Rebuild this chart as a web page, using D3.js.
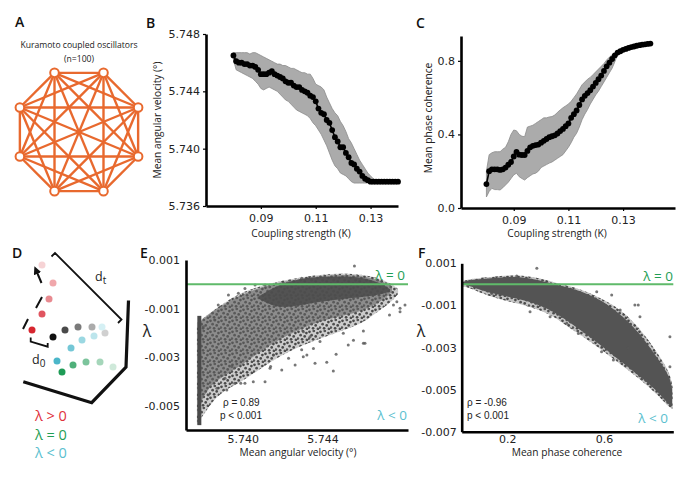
<!DOCTYPE html>
<html><head><meta charset="utf-8">
<script src="https://cdn.jsdelivr.net/npm/d3@7"></script>
<style>body{margin:0;background:#fff}</style>
</head><body>
<script>
// ---------- data ----------
var kVals = [0.080,0.081,0.082,0.083,0.084,0.085,0.086,0.087,0.088,0.089,
             0.090,0.091,0.092,0.093,0.094,0.095,0.096,0.097,0.098,0.099,
             0.100,0.101,0.102,0.103,0.104,0.105,0.106,0.107,0.108,0.109,
             0.110,0.111,0.112,0.113,0.114,0.115,0.116,0.117,0.118,0.119,
             0.120,0.121,0.122,0.123,0.124,0.125,0.126,0.127,0.128,0.129,
             0.130,0.131,0.132,0.133,0.134,0.135,0.136,0.137,0.138,0.139,0.140]

var velMean = [5.7465,5.7461,5.7460,5.7460,5.7459,5.7459,5.7458,5.7458,5.7457,5.7455,
               5.7452,5.7452,5.7452,5.7453,5.7454,5.7452,5.7451,5.7450,5.7449,5.7447,
               5.7446,5.7446,5.7444,5.7443,5.7443,5.7441,5.7440,5.7439,5.7437,5.7436,
               5.7433,5.7428,5.7425,5.7424,5.7420,5.7418,5.7413,5.7408,5.7405,5.7401,
               5.7401,5.7397,5.7394,5.7390,5.7389,5.7386,5.7384,5.7381,5.7379,5.7378,
               5.7377,5.7377,5.7377,5.7377,5.7377,5.7377,5.7377,5.7377,5.7377,5.7377,5.7377]
var velHi = [5.7467,5.7467,5.7467,5.7467,5.7467,5.7467,5.7466,5.7467,5.7467,5.7466,
             5.7465,5.7464,5.7463,5.7462,5.7461,5.7460,5.7459,5.7459,5.7458,5.7458,
             5.7457,5.7456,5.7456,5.7455,5.7454,5.7453,5.7453,5.7452,5.7452,5.7449,
             5.7445,5.7444,5.7443,5.7441,5.7436,5.7432,5.7428,5.7425,5.7423,5.7419,
             5.7416,5.7412,5.7407,5.7404,5.7400,5.7396,5.7392,5.7389,5.7386,5.7383,
             5.7381,5.7379,5.7378,5.7378,5.7378,5.7378,5.7378,5.7378,5.7378,5.7378,5.7378]
var velLo = [5.7462,5.7455,5.7454,5.7453,5.7452,5.7451,5.7450,5.7449,5.7447,5.7445,
             5.7442,5.7441,5.7442,5.7443,5.7442,5.7441,5.7440,5.7438,5.7436,5.7434,
             5.7433,5.7431,5.7429,5.7427,5.7426,5.7425,5.7424,5.7423,5.7421,5.7418,
             5.7416,5.7413,5.7410,5.7406,5.7402,5.7397,5.7392,5.7388,5.7386,5.7383,
             5.7382,5.7381,5.7379,5.7377,5.7376,5.7376,5.7376,5.7376,5.7376,5.7376,
             5.7376,5.7376,5.7376,5.7376,5.7376,5.7376,5.7376,5.7376,5.7376,5.7376,5.7376]

var cohMean = [0.13,0.20,0.21,0.21,0.21,0.207,0.21,0.22,0.235,0.25,
               0.28,0.305,0.29,0.288,0.288,0.31,0.33,0.338,0.342,0.345,
               0.355,0.365,0.375,0.385,0.39,0.395,0.405,0.418,0.43,0.445,
               0.46,0.49,0.51,0.53,0.56,0.59,0.61,0.625,0.64,0.66,
               0.68,0.70,0.72,0.745,0.77,0.79,0.81,0.83,0.845,0.852,
               0.86,0.865,0.87,0.875,0.878,0.882,0.885,0.888,0.89,0.892,0.894]
var cohHi = [0.20,0.29,0.30,0.306,0.306,0.306,0.32,0.33,0.36,0.40,
             0.424,0.42,0.40,0.39,0.388,0.44,0.445,0.45,0.46,0.47,
             0.48,0.49,0.49,0.495,0.497,0.505,0.52,0.533,0.545,0.555,
             0.565,0.58,0.60,0.62,0.645,0.67,0.685,0.70,0.71,0.725,
             0.74,0.755,0.77,0.785,0.805,0.82,0.833,0.84,0.85,0.856,
             0.864,0.869,0.874,0.879,0.882,0.886,0.889,0.892,0.894,0.896,0.898]
var cohLo = [0.06,0.09,0.107,0.10,0.10,0.098,0.11,0.125,0.14,0.16,
             0.18,0.189,0.17,0.16,0.152,0.165,0.175,0.185,0.189,0.20,
             0.22,0.228,0.236,0.244,0.25,0.26,0.27,0.28,0.29,0.31,
             0.33,0.355,0.385,0.406,0.44,0.48,0.51,0.535,0.565,0.59,
             0.615,0.635,0.66,0.685,0.71,0.735,0.76,0.795,0.835,0.848,
             0.856,0.861,0.866,0.871,0.874,0.878,0.881,0.884,0.886,0.888,0.890]

// E: lambda vs mean angular velocity (sparse outline, mid-density zone, dense core, streak, loose points)
var eCloudX   = [5.7377,5.7380,5.7385,5.7390,5.7400,5.7410,5.7420,5.7430,5.7440,5.7450,5.7460,5.7465,5.7470,5.7475,5.7478]
var eCloudTop = [-0.0016,-0.0014,-0.0011,-0.0008,-0.0003,-0.00005,0.00015,0.0003,0.0004,0.00045,0.0004,0.00032,0.0002,0.0,-0.0002]
var eCloudBot = [-0.0058,-0.0054,-0.0048,-0.0044,-0.0040,-0.0034,-0.0029,-0.0025,-0.0022,-0.0019,-0.0016,-0.0013,-0.0010,-0.0007,-0.0004]
var eMidX   = [5.7378,5.7382,5.7385,5.7390,5.7400,5.7410,5.7420,5.7430,5.7440,5.7450,5.7460,5.7470,5.7475]
var eMidTop = [-0.0016,-0.0013,-0.0011,-0.00085,-0.0004,-0.0001,0.0001,0.00025,0.00035,0.0004,0.00035,0.00015,-0.0001]
var eMidBot = [-0.0050,-0.0044,-0.0041,-0.0038,-0.0033,-0.0027,-0.0022,-0.0018,-0.0015,-0.0013,-0.0011,-0.0007,-0.0003]
var eCoreX   = [5.7408,5.7415,5.7422,5.7430,5.7440,5.7450,5.7460,5.7468,5.7474]
var eCoreTop = [-0.0005,-0.00015,0.00008,0.00025,0.0003,0.00033,0.00028,0.0001,-0.0002]
var eCoreBot = [-0.0006,-0.0009,-0.00095,-0.00085,-0.0007,-0.0006,-0.00052,-0.00044,-0.0003]
var eStreak = [5.73782,-0.0058,-0.0013]
var eLoose = [[5.74561,0.00075],[5.74455,-0.00357],[5.74606,-0.00243],[5.74757,-0.00085],[5.74815,-0.00085],
  [5.7479,-0.00113],[5.74363,-0.00325],[5.74304,-0.00298],[5.7414,-0.00339],[5.7399,-0.00408],
  [5.73945,-0.00339],[5.7392,-0.00435],[5.74422,-0.00321],[5.74469,-0.00288],[5.7453,-0.0025],
  [5.74556,-0.0023],[5.74614,-0.00243],[5.74606,-0.00192],[5.74737,-0.00126],[5.7479,-0.00099],
  [5.74774,-0.00072],[5.74322,-0.00291],[5.74355,-0.00264],[5.74388,-0.00236],[5.74505,-0.00202],
  [5.74305,-0.00195],[5.74338,-0.00216],[5.74112,-0.00401],[5.74053,-0.00401],[5.74011,-0.00408],
  [5.7396,-0.00408],[5.74263,-0.00332],[5.7423,-0.00305],[5.74196,-0.00353],[5.74137,-0.00346],
  [5.74154,-0.00291],[5.74296,-0.0027],[5.73877,-0.00085],[5.7386,-0.00147],[5.73802,-0.00175],
  [5.73928,-0.00044],[5.73978,-0.00037],[5.74011,-0.00017],[5.74062,-0.00003],[5.74296,0.00025],
  [5.74204,0.00004],[5.74112,-0.00003],[5.73827,-0.00456],[5.7387,-0.00428],[5.73911,-0.00387]]

// F: lambda vs mean phase coherence
var fOuterX   = [0.013,0.032,0.128,0.239,0.335,0.404,0.473,0.542,0.611,0.680,0.749,0.818,0.874,0.884]
var fOuterTop = [0.0001,0.00025,0.00035,0.00047,0.0003,0.00005,-0.00012,-0.0004,-0.0008,-0.0013,-0.0021,-0.0032,-0.0042,-0.0049]
var fOuterBot = [-0.0001,-0.0001,-0.0006,-0.0009,-0.0012,-0.0016,-0.0022,-0.0027,-0.0033,-0.0039,-0.0045,-0.0052,-0.0059,-0.0059]
var fCoreX   = [0.015,0.032,0.128,0.239,0.335,0.404,0.473,0.542,0.611,0.680,0.749,0.818,0.874,0.882]
var fCoreTop = [0.0001,0.0002,0.00029,0.0004,0.0002,-0.00003,-0.00019,-0.0005,-0.0009,-0.00154,-0.00233,-0.00344,-0.00439,-0.0050]
var fCoreBot = [0.0,-0.00003,-0.00043,-0.00066,-0.00098,-0.00138,-0.00193,-0.00249,-0.00312,-0.00375,-0.00439,-0.00502,-0.00581,-0.0058]
var fLoose = [[0.294,-0.0013],[0.377,-0.00154],[0.446,-0.00185],[0.494,-0.00233],[0.549,-0.00249],
  [0.57,-0.00035],[0.632,-0.0005],[0.667,-0.00122],[0.728,-0.00098],[0.749,-0.00154],
  [0.639,-0.00359],[0.701,-0.00304],[0.873,-0.00391],[0.873,-0.00249],[0.777,-0.00454],
  [0.239,0.0004],[0.322,0.00076],[0.742,-0.00098],[0.59,-0.0032],[0.135,-0.00043],[0.377,-0.00082]]

var ticksVel = [5.736,5.740,5.744,5.748]
var ticksK = [0.09,0.11,0.13]
var ticksCoh = [0.0,0.4,0.8]
var ticksLamE = [0.001,-0.001,-0.003,-0.005]
var ticksLamF = [0.001,-0.001,-0.003,-0.005,-0.007]
var ticksVelX = [5.740,5.744]
var ticksCohX = [0.2,0.6]

// ---------- setup ----------
var svg = d3.select("body").append("svg").attr("width",682).attr("height",477)
var defs = svg.append("defs")
var ORANGE = "#e8692e", GREEN = "#5fba6a", CYAN = "#5bbfcf", RED = "#e0313b", DGREEN = "#1f9e55"
var labelFont = "Open Sans", tickFont = "DejaVu Sans"

var fmt3 = function(d){ return d3.format(".3f")(d).replace("\u2212","-") }

function styleAxis(g){
  g.select(".domain").attr("stroke","#000").attr("stroke-width",2.6)
  g.selectAll(".tick line").attr("stroke","#000").attr("stroke-width",1.2)
  g.selectAll("text").attr("font-family",tickFont).attr("font-size",11).attr("fill","#222")
}
function txt(x,y,s,size,opt){
  opt = opt || {}
  return svg.append("text").attr("x",x).attr("y",y).text(s)
    .attr("font-family",opt.font||labelFont).attr("font-size",size)
    .attr("font-weight",opt.weight||400).attr("fill",opt.fill||"#222")
    .attr("text-anchor",opt.anchor||"start")
}
function ylabel(x,y,s,size){
  svg.append("text").attr("transform","translate("+x+","+y+") rotate(-90)")
    .attr("text-anchor","middle").attr("dy","0.35em").text(s)
    .attr("font-family",labelFont).attr("font-size",size).attr("fill","#222")
}

// panel letters
txt(15,27,"A",14,{weight:600,fill:"#111"})
txt(146,28,"B",14,{weight:600,fill:"#111"})
txt(416,28,"C",14,{weight:600,fill:"#111"})
txt(12,258,"D",14,{weight:600,fill:"#111"})
txt(140,258,"E",14,{weight:600,fill:"#111"})
txt(418,258,"F",14,{weight:600,fill:"#111"})

// ---------- A: complete graph of 8 oscillators ----------
txt(79,48,"Kuramoto coupled oscillators",8.6,{anchor:"middle"})
txt(79,62,"(n=100)",8.6,{anchor:"middle"})
var nodeAngles = [-22.5,22.5,67.5,112.5,157.5,202.5,247.5,292.5]
var nodes = nodeAngles.map(function(a){
  var p = d3.pointRadial(a*Math.PI/180,64); return [79+p[0],132+p[1]] })
var edges = []
nodes.forEach(function(a,i){ nodes.forEach(function(b,j){ if(j>i) edges.push([a,b]) }) })
svg.append("g").selectAll("line").data(edges).join("line")
  .attr("x1",function(d){return d[0][0]}).attr("y1",function(d){return d[0][1]})
  .attr("x2",function(d){return d[1][0]}).attr("y2",function(d){return d[1][1]})
  .attr("stroke",ORANGE).attr("stroke-width",2.4)
svg.append("g").selectAll("circle").data(nodes).join("circle")
  .attr("cx",function(d){return d[0]}).attr("cy",function(d){return d[1]}).attr("r",4.3)
  .attr("fill","#fff").attr("stroke",ORANGE).attr("stroke-width",2)

// ---------- B and C: mean +/- band vs coupling strength ----------
function bandPanel(x,y,mean,hi,lo){
  var area = d3.area().x(function(d,i){return x(kVals[i])})
    .y0(function(d,i){return y(lo[i])}).y1(function(d,i){return y(hi[i])})
  svg.append("path").datum(kVals).attr("d",area)
    .attr("fill","#ababab").attr("stroke","#8a8a8a").attr("stroke-width",0.8)
  var line = d3.line().x(function(d,i){return x(kVals[i])}).y(function(d){return y(d)})
  svg.append("path").datum(mean).attr("d",line).attr("fill","none").attr("stroke","#000").attr("stroke-width",1.6)
  svg.append("g").selectAll("circle").data(mean).join("circle")
    .attr("cx",function(d,i){return x(kVals[i])}).attr("cy",function(d){return y(d)}).attr("r",2.9).attr("fill","#000")
}

var xB = d3.scaleLinear([0.07,0.14],[206,398])
var yB = d3.scaleLinear([5.736,5.748],[206,34])
bandPanel(xB,yB,velMean,velHi,velLo)
svg.append("g").attr("transform","translate(206,0)")
  .call(d3.axisLeft(yB).tickValues(ticksVel).tickFormat(d3.format(".3f")).tickSize(3).tickSizeOuter(0)).call(styleAxis)
svg.append("g").attr("transform","translate(0,206)")
  .call(d3.axisBottom(xB).tickValues(ticksK).tickFormat(d3.format(".2f")).tickSize(3).tickSizeOuter(0).tickPadding(5)).call(styleAxis)
ylabel(157,120,"Mean angular velocity (\u00b0)",10.2)
txt(301,237,"Coupling strength (K)",10.2,{anchor:"middle"})

var xC = d3.scaleLinear([0.0707,0.149],[461,675])
var yC = d3.scaleLinear([0,0.935],[208,36])
bandPanel(xC,yC,cohMean,cohHi,cohLo)
svg.append("g").attr("transform","translate(461,0)")
  .call(d3.axisLeft(yC).tickValues(ticksCoh).tickFormat(d3.format(".1f")).tickSize(3).tickSizeOuter(0)).call(styleAxis)
svg.append("g").attr("transform","translate(0,208)")
  .call(d3.axisBottom(xC).tickValues(ticksK).tickFormat(d3.format(".2f")).tickSize(3).tickSizeOuter(0).tickPadding(5)).call(styleAxis)
ylabel(428,118,"Mean phase coherence",10.2)
txt(557,237,"Coupling strength (K)",10.2,{anchor:"middle"})

// ---------- D: schematic of trajectory divergence ----------
var dDots = [
  [42,265,"#f6d3d5"],[53,283,"#f0a7ab"],[49,299,"#e88a90"],[42,314,"#e05560"],[32,330,"#d7262f"],
  [105,333,"#d0d0d0"],[92,327,"#ababab"],[78,327,"#7a7a7a"],[65,330,"#4a4a4a"],[53,337,"#111"],
  [102,327,"#d5f0f4"],[94,336,"#bce5ec"],[82,340,"#9bd8e2"],[71,348,"#74c7d6"],[57,361,"#4bb6c9"],
  [113,367,"#cfe9da"],[100,362,"#a5d6ba"],[86,362,"#7cc49c"],[73,365,"#4fb07a"],[62,372,"#1e9b56"]]
svg.append("g").selectAll("circle").data(dDots).join("circle")
  .attr("cx",function(d){return d[0]}).attr("cy",function(d){return d[1]}).attr("r",3.5)
  .attr("fill",function(d){return d[2]})
svg.append("path").attr("d","M23,329 L28,319 M36,308 L42,297").attr("fill","none").attr("stroke","#111").attr("stroke-width",2)
defs.html('<marker id="ah" viewBox="0 0 10 10" refX="5" refY="5" markerWidth="4" markerHeight="4" orient="auto"><path d="M0,0 L10,5 L0,10 z" fill="#111"/></marker>')
svg.append("path").attr("d","M41.5,283 L36,270").attr("fill","none").attr("stroke","#111").attr("stroke-width",2).attr("marker-end","url(#ah)")
svg.append("path").attr("d","M30.7,337.5 L30.7,341.5 L47.7,346.7 L47.7,343").attr("fill","none").attr("stroke","#111").attr("stroke-width",1.8)
svg.append("path").attr("d","M51.5,256.5 L55,253 L121.5,319.5 L118,323").attr("fill","none").attr("stroke","#111").attr("stroke-width",1.8)
svg.append("path").attr("d","M128.5,300.5 L126,367 L91.7,402.7 L23.3,381.7").attr("fill","none").attr("stroke","#111").attr("stroke-width",3.2)
var d0 = txt(32,364,"d",12.5); d0.append("tspan").attr("dy",3).attr("font-size",10).text("0")
var dt = txt(95,281,"d",12.5); dt.append("tspan").attr("dy",3).attr("font-size",10).text("t")
txt(35,421,"\u03bb > 0",14.5,{fill:RED})
txt(35,439.5,"\u03bb = 0",14.5,{fill:DGREEN})
txt(35,458,"\u03bb < 0",14.5,{fill:CYAN})

// irregular speckle tile for the scatter clouds
defs.append("pattern").attr("id","spk").attr("width",11).attr("height",11).attr("patternUnits","userSpaceOnUse")
  .html('<circle cx="1.5" cy="1.8" r="1.35" fill="#4a4a4a"/><circle cx="5.8" cy="0.9" r="1.35" fill="#555"/>' +
        '<circle cx="9.4" cy="3.1" r="1.35" fill="#4a4a4a"/><circle cx="3.6" cy="5.2" r="1.35" fill="#505050"/>' +
        '<circle cx="7.7" cy="6.4" r="1.35" fill="#4a4a4a"/><circle cx="0.8" cy="8.6" r="1.35" fill="#555"/>' +
        '<circle cx="5.1" cy="9.3" r="1.35" fill="#4a4a4a"/><circle cx="9.9" cy="9.8" r="1.35" fill="#505050"/>')

function cloud(x,y,xs,top,bot,fill,op){
  var area = d3.area().x(function(d,i){return x(xs[i])})
    .y0(function(d,i){return y(bot[i])}).y1(function(d,i){return y(top[i])}).curve(d3.curveBasis)
  return svg.append("path").datum(xs).attr("d",area).attr("fill",fill).attr("fill-opacity",op)
}
function loose(x,y,pts){
  svg.append("g").selectAll("circle").data(pts).join("circle")
    .attr("cx",function(d){return x(d[0])}).attr("cy",function(d){return y(d[1])}).attr("r",1.5)
    .attr("fill","#555").attr("fill-opacity",0.8)
}

// ---------- E ----------
var xE = d3.scaleLinear([5.73715,5.7483],[186,408])
var yE = d3.scaleLinear([-0.006,0.001],[430,260])
cloud(xE,yE,eCloudX,eCloudTop,eCloudBot,"#9a9a9a",0.5)
cloud(xE,yE,eCloudX,eCloudTop,eCloudBot,"url(#spk)",1)
cloud(xE,yE,eMidX,eMidTop,eMidBot,"#606060",0.6)
cloud(xE,yE,eCoreX,eCoreTop,eCoreBot,"#4d4d4d",0.9)
svg.append("line").attr("x1",xE(eStreak[0])).attr("x2",xE(eStreak[0]))
  .attr("y1",yE(eStreak[1])).attr("y2",yE(eStreak[2])).attr("stroke","#4a4a4a").attr("stroke-width",4)
loose(xE,yE,eLoose)
svg.append("line").attr("x1",xE.range()[0]).attr("x2",xE.range()[1]).attr("y1",yE(0)).attr("y2",yE(0))
  .attr("stroke",GREEN).attr("stroke-width",2)
svg.append("g").attr("transform","translate(186,0)")
  .call(d3.axisLeft(yE).tickValues(ticksLamE).tickFormat(fmt3).tickSize(0).tickPadding(6)).call(styleAxis)
svg.append("g").attr("transform","translate(0,430)")
  .call(d3.axisBottom(xE).tickValues(ticksVelX).tickFormat(d3.format(".3f")).tickSize(0).tickPadding(5)).call(styleAxis)
txt(147,337,"\u03bb",16,{anchor:"middle"})
txt(298,456,"Mean angular velocity (\u00b0)",10.2,{anchor:"middle"})
txt(223,406,"\u03c1 = 0.89",10,{font:"Liberation Sans"})
txt(220,419,"p < 0.001",10,{font:"Liberation Sans"})
txt(405,280,"\u03bb = 0",13.5,{fill:DGREEN,anchor:"end"})
txt(407,420,"\u03bb < 0",13.5,{fill:CYAN,anchor:"end"})

// ---------- F ----------
var xF = d3.scaleLinear([0.011,0.887],[461.7,673.3])
var yF = d3.scaleLinear([-0.007,0.001],[431.7,263.3])
cloud(xF,yF,fOuterX,fOuterTop,fOuterBot,"#8a8a8a",0.5)
cloud(xF,yF,fOuterX,fOuterTop,fOuterBot,"url(#spk)",1)
cloud(xF,yF,fCoreX,fCoreTop,fCoreBot,"#545454",1)
loose(xF,yF,fLoose)
svg.append("line").attr("x1",xF.range()[0]).attr("x2",xF.range()[1]).attr("y1",yF(0)).attr("y2",yF(0))
  .attr("stroke",GREEN).attr("stroke-width",2)
svg.append("g").attr("transform","translate(461.7,0)")
  .call(d3.axisLeft(yF).tickValues(ticksLamF).tickFormat(fmt3).tickSize(0).tickPadding(5)).call(styleAxis)
svg.append("g").attr("transform","translate(0,431.7)")
  .call(d3.axisBottom(xF).tickValues(ticksCohX).tickFormat(d3.format(".1f")).tickSize(0).tickPadding(4)).call(styleAxis)
txt(421,337,"\u03bb",16,{anchor:"middle"})
txt(567,456,"Mean phase coherence",10.2,{anchor:"middle"})
txt(467,406,"\u03c1 = -0.96",10,{font:"Liberation Sans"})
txt(467,419,"p < 0.001",10,{font:"Liberation Sans"})
txt(673,281,"\u03bb = 0",13.5,{fill:DGREEN,anchor:"end"})
txt(668,423,"\u03bb < 0",13.5,{fill:CYAN,anchor:"end"})
</script>
</body></html>
